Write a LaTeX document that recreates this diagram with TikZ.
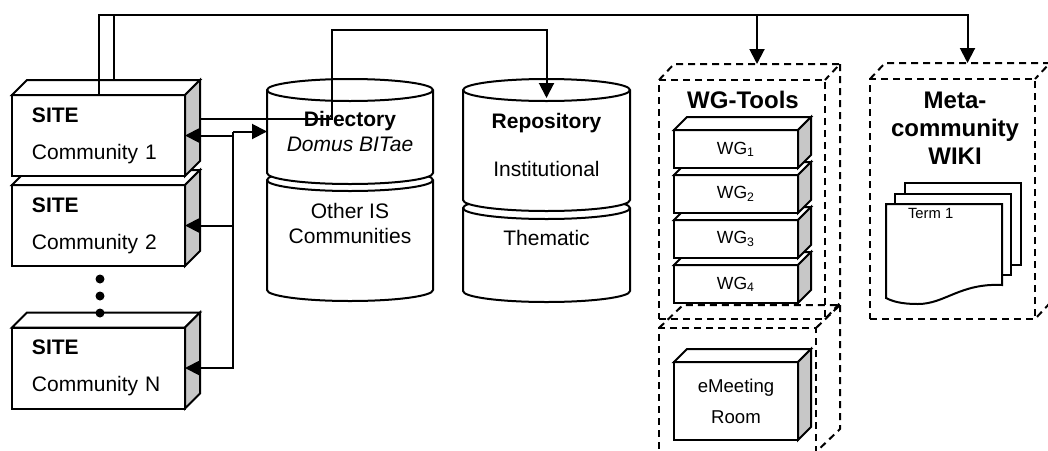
\documentclass[tikz,border=0pt]{standalone}
\usepackage{fontspec}
\setmainfont{Liberation Sans}
\usetikzlibrary{arrows.meta,calc}
\tikzset{
	sitebox/.style={draw,fill=white,minimum width=86.5pt,minimum height=40.5pt,text width=66.5pt,inner xsep=10pt,inner ysep=0pt,outer sep=0pt,align=left},
	wgbox/.style={draw,fill=white,minimum width=62pt,minimum height=19pt,inner sep=0pt,outer sep=0pt,font=\fontsize{8.8}{10}\selectfont},
	roombox/.style={draw,fill=white,minimum width=62pt,minimum height=39pt,inner sep=0pt,outer sep=0pt,align=center,font=\fontsize{9.3}{11.2}\selectfont},
	dashbox/.style={dash pattern=on 3.5pt off 2.5pt},
	dashgroup/.style={dashbox,draw,inner sep=0pt,outer sep=0pt},
	lbl/.style={inner sep=0pt,outer sep=0pt,align=center},
	title/.style={lbl,font=\bfseries\fontsize{12}{14}\selectfont},
	sitedot/.style={circle,fill,inner sep=0pt,minimum size=4.5pt},
	arr/.style={-{Triangle[length=7.5pt,width=7.5pt]}}
}
\newcommand{\solidcube}[2]{%
	\draw[fill=white] (#1.north west) -- ++(#2,-#2) -- ($(#1.north east)+(#2,-#2)$) -- (#1.north east) -- cycle;
	\draw[fill=black!22] (#1.north east) -- ++(#2,-#2) -- ($(#1.south east)+(#2,-#2)$) -- (#1.south east) -- cycle;
}
\newcommand{\dashcube}[3]{%
	\draw[dashbox] (#1.north west) -- ++(#2,#3) -- ($(#1.north east)+(#2,#3)$) -- (#1.north east);
	\draw[dashbox] ($(#1.north east)+(#2,#3)$) -- ($(#1.south east)+(#2,#3)$) -- (#1.south east);
}
\newcommand{\drum}[6]{%
	\draw[fill=white] (#1,#3) -- (#1,#4) arc[start angle=180,end angle=360,x radius=#5pt,y radius=#6pt] -- (#2,#3) arc[start angle=0,end angle=180,x radius=#5pt,y radius=#6pt] -- cycle;
	\draw (#1,#3) arc[start angle=180,end angle=360,x radius=#5pt,y radius=#6pt];
}
\begin{document}
\begin{tikzpicture}[x=0.5pt,y=-0.5pt,line width=1pt,font=\fontsize{10.5}{12.6}\selectfont]
	\useasboundingbox (0,0) rectangle (1048,450);
	\foreach \n/\y/\t in {siteN/368/N,site2/225.5/2,site1/135.5/1} {
		\node[sitebox] (\n) at (98.5,\y) {\textbf{SITE}\\[6pt]Community \t};
		\solidcube{\n}{15}
	}
	\foreach \y [count=\i] in {279,296,313}
		\node[sitedot] (dot\i) at (100,\y) {};
	\drum{267}{433}{180}{290}{41.5}{5.5}
	\drum{267}{433}{90}{173}{41.5}{5.5}
	\drum{463}{630}{208}{291}{41.75}{5.5}
	\drum{463}{630}{90}{200}{41.75}{5.5}
	\node[lbl,minimum width=83pt,minimum height=41.5pt] (dirtop) at (350,131.5) {\textbf{Directory}\\\textit{Domus BITae}};
	\node[lbl] (dirlow) at (350,223.5) {Other IS\\Communities};
	\node[lbl,minimum width=83.5pt,minimum height=55pt] (reptop) at (546.5,145) {\textbf{Repository}\\[11.5pt]Institutional};
	\node[lbl] (replow) at (546.5,238) {Thematic};
	\node[dashgroup,minimum width=78.5pt,minimum height=62pt] (emeet) at (737.5,390) {};
	\dashcube{emeet}{24}{-23}
	\node[dashgroup,minimum width=83pt,minimum height=119.5pt] (wgtools) at (742,199.5) {};
	\dashcube{wgtools}{15}{-16}
	\node[dashgroup,minimum width=82.5pt,minimum height=120pt] (wiki) at (952.5,199) {};
	\dashcube{wiki}{15}{-16}
	\foreach \i in {4,3,2,1} {
		\node[wgbox] (wg\i) at (736,{149+45*(\i-1)}) {WG\textsubscript{\i}};
		\solidcube{wg\i}{13}
	}
	\node[roombox] (room) at (736,401) {eMeeting\\[4.3pt]Room};
	\solidcube{room}{13}
	\draw[fill=white] (905,183) rectangle (1021,265);
	\draw[fill=white] (895,194) rectangle (1011,275);
	\draw[fill=white] (886,204) -- (1002,204) -- (1002,285) .. controls (960,283) and (945,304) .. (918,304) .. controls (900,304) and (892,301) .. (886,298) -- cycle;
	\node[lbl,anchor=west,font=\fontsize{7.4}{9}\selectfont] (term) at (908,213) {Term 1};
	\node[title] (wgtitle) at (743,100) {WG-Tools};
	\node[title] (wikititle) at (955,128) {Meta-\\community\\WIKI};
	\coordinate (bus) at (233,131.5);
	\draw[arr] (bus) -- (dirtop.west);
	\foreach \n in {site1,site2,siteN}
		\draw[arr] (bus) |- (\n.east);
	\coordinate (site1-out) at ($(site1.east)+(15,-16.5)$);
	\coordinate (bend) at (332,30);
	\coordinate (rep-in) at ($(reptop.north)+(0,8)$);
	\draw[arr] (site1-out) -| (bend) -| (rep-in);
	\coordinate (topline) at (98.5,15);
	\coordinate (wgtools-in) at ($(wgtools.north)+(15,-16)$);
	\coordinate (wiki-in) at ($(wiki.north)+(15,-16)$);
	\draw[arr] (site1.north) -- (topline) -| (wiki-in);
	\draw[arr] (topline -| wgtools-in) -- (wgtools-in);
	\draw ($(site1.north)+(15,-15)$) -- ($(topline)+(15,0)$);
\end{tikzpicture}
\end{document}
